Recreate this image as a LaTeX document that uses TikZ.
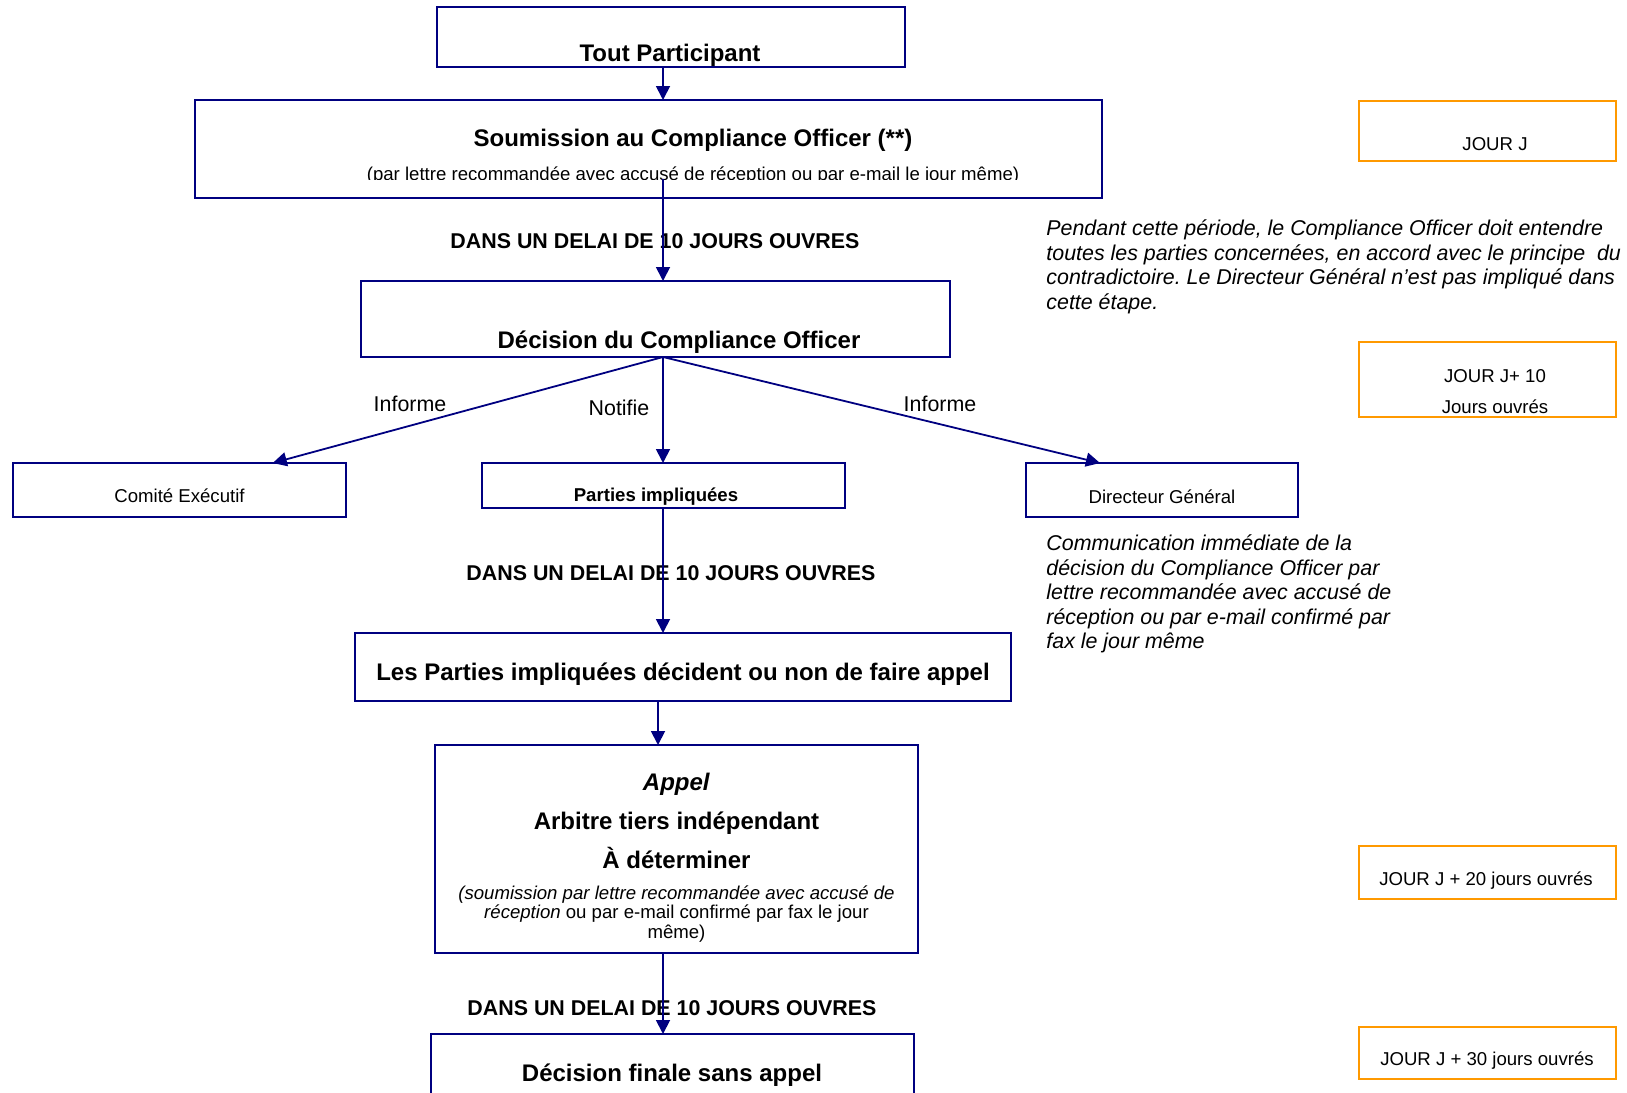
\documentclass[tikz,border=0pt]{standalone}
\usepackage{fontspec}
\setmainfont{Liberation Sans}
\usetikzlibrary{arrows.meta,calc}
\frenchspacing

\definecolor{bleu}{RGB}{0,0,128}
\definecolor{orangeJ}{RGB}{255,153,0}

\newcommand{\ftitre}{\fontsize{12}{14}\selectfont\bfseries}
\newcommand{\fdelai}{\fontsize{10.7}{12}\selectfont\bfseries}
\newcommand{\fnorm}{\fontsize{10.7}{12}\selectfont}
\newcommand{\fpetit}{\fontsize{9.3}{11}\selectfont}

\tikzset{
  cadre/.style={draw=bleu, line width=1pt, inner sep=0pt, outer sep=0pt},
  cadrejour/.style={draw=orangeJ, line width=1pt, inner sep=0pt, outer sep=0pt, minimum width=128.5pt},
  texte/.style={inner sep=0pt},
  fleche/.style={draw=bleu, line width=0.9pt, -{Triangle[length=7pt,width=7pt]}},
}

\begin{document}
\begin{tikzpicture}[x=0.5pt,y=-0.5pt]
  \useasboundingbox (0,0) rectangle (1627,1092);
  \clip (0,0) rectangle (1627,1092);
  \coordinate (axe)  at (663,0);
  \coordinate (axeb) at (658,0);

  % boxes of the procedure
  \node [cadre, minimum width=234pt,   minimum height=30pt]   (tout)    at (671,37)     {};
  \node [cadre, minimum width=453.5pt, minimum height=49pt]   (soum)    at (648.5,149)  {};
  \node [cadre, minimum width=294.5pt, minimum height=38pt]   (dec)     at (655.5,319)  {};
  \node [cadre, minimum width=166.5pt, minimum height=27pt]   (comite)  at (179.5,490)  {};
  \node [cadre, minimum width=181.5pt, minimum height=22.5pt] (parties) at (663.5,485.5) {};
  \node [cadre, minimum width=136pt,   minimum height=27pt]   (dg)      at (1162,490)   {};
  \node [cadre, minimum width=328pt,   minimum height=34pt]   (lesp)    at (683,667)    {};
  \node [cadre, minimum width=241.5pt, minimum height=104pt]  (appel)   at (676.5,849)  {};
  \node [cadre, minimum width=241.5pt, minimum height=40pt]   (finale)  at (672.5,1074) {};

  % days
  \node [cadrejour, minimum height=30pt]   (j)   at (1487.5,131)   {};
  \node [cadrejour, minimum height=37.5pt] (j10) at (1487.5,379.5) {};
  \node [cadrejour, minimum height=26.5pt] (j20) at (1487.5,872.5) {};
  \node [cadrejour, minimum height=26pt]   (j30) at (1487.5,1053)  {};

  % texts
  \node [texte, font=\ftitre] (toutT) at (670,55) {Tout Participant};
  \node [texte, font=\ftitre] (soumT) at (693,140) {Soumission au Compliance Officer (**)};
  \begin{scope}
    \clip (soum.north west) rectangle (1102,179.5);
    \node [texte, font=\fpetit, anchor=base] (soumS) at (693,180.5)
      {(par lettre recommandée avec accusé de réception ou par e-mail le jour même)};
  \end{scope}
  \node [texte, font=\fdelai] (delai1) at (655,241) {DANS UN DELAI DE 10 JOURS OUVRES};
  \node [texte, font=\ftitre] (decT) at (679,342) {Décision du Compliance Officer};
  \node [texte, font=\fnorm] (inf1)  at (410,404) {Informe};
  \node [texte, font=\fnorm] (notif) at (619,408) {Notifie};
  \node [texte, font=\fnorm] (inf2)  at (940,404) {Informe};
  \node [texte, font=\fpetit] (comiteT) at (179.5,496) {Comité Exécutif};
  \node [texte, font=\fpetit\bfseries] (partiesT) at (656,497) {Parties impliquées};
  \node [texte, font=\fpetit] (dgT) at (1162,497) {Directeur Général};
  \node [texte, font=\fdelai] (delai2) at (671,573) {DANS UN DELAI DE 10 JOURS OUVRES};
  \node [texte, font=\ftitre] (lespT) at (683,674) {Les Parties impliquées décident ou non de faire appel};
  \node [texte, font=\fontsize{12}{19.5}\selectfont\bfseries, align=center] (appelT) at (676.5,821)
    {\textit{Appel}\\ Arbitre tiers indépendant\\ À déterminer};
  \node [texte, font=\fontsize{9.3}{9.7}\selectfont, align=center] (appelS) at (676.5,914)
    {\textit{(soumission par lettre recommandée avec accusé de}\\ \textit{réception} ou par e-mail confirmé par fax le jour\\ même)};
  \node [texte, font=\fdelai] (delai3) at (672,1008) {DANS UN DELAI DE 10 JOURS OUVRES};
  \node [texte, font=\ftitre] (finaleT) at (672,1075) {Décision finale sans appel};

  \node [texte, font=\fpetit] (jT) at (1495,144) {JOUR J};
  \node [texte, font=\fontsize{9.3}{15.5}\selectfont, align=center] (j10T) at (1495,392) {JOUR J+ 10\\ Jours ouvrés};
  \node [texte, font=\fpetit] (j20T) at (1486,881) {JOUR J + 20 jours ouvrés};
  \node [texte, font=\fpetit] (j30T) at (1487,1061) {JOUR J + 30 jours ouvrés};

  \node [texte, font=\fontsize{10.7}{12.25}\selectfont\itshape, align=left, anchor=west] (periode) at (1046,267)
    {Pendant cette période, le Compliance Officer doit entendre\\ toutes les parties concernées, en accord avec le principe~~du\\ contradictoire. Le Directeur Général n’est pas impliqué dans\\ cette étape.};
  \node [texte, font=\fontsize{10.7}{12.25}\selectfont\itshape, align=left, anchor=west] (communication) at (1046,594)
    {Communication immédiate de la\\ décision du Compliance Officer par\\ lettre recommandée avec accusé de\\ réception ou par e-mail confirmé par\\ fax le jour même};

  % arrows
  \draw [fleche] (tout.south -| axe) -- (soum.north -| axe);
  \draw [fleche] ([yshift=1pt]soumS.base -| axe) -- (dec.north -| axe);
  \draw [fleche] (dec.south -| axe) -- ($(comite.north west)!0.78!(comite.north east)$);
  \draw [fleche] (dec.south -| axe) -- (parties.north -| axe);
  \draw [fleche] (dec.south -| axe) -- ($(dg.north west)!0.272!(dg.north east)$);
  \draw [fleche] (parties.south -| axe) -- (lesp.north -| axe);
  \draw [fleche] (lesp.south -| axeb) -- (appel.north -| axeb);
  \draw [fleche] (appel.south -| axe) -- (finale.north -| axe);
\end{tikzpicture}
\end{document}
